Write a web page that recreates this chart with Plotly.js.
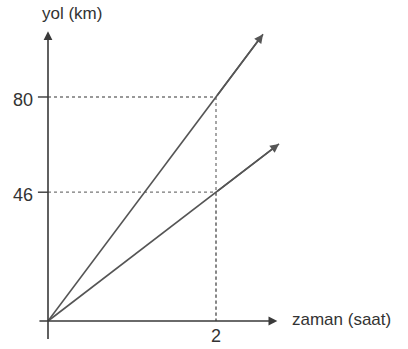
<!DOCTYPE html>
<html>
<head>
<meta charset="utf-8">
<script src="https://cdn.plot.ly/plotly-3.0.1.min.js"></script>
<style>
  html, body { margin: 0; padding: 0; background: #fff; }
  #chart { width: 408px; height: 349px; }
</style>
</head>
<body>
<div id="chart"></div>
<script>
// --- data ---
const markTime = 2;                 // saat
const markKm = [80, 46];            // yol at t = 2 for the two movers
const fastTime = [0, 2, 2.56];
const fastKm = [0, 80, 102.4];
const slowTime = [0, 2, 2.75];
const slowKm = [0, 46, 63.25];
const xTickLabels = ['2'];
const yTickLabels = ['80', '46'];

const lineColor = '#555';
const axisColor = '#3a3a3a';
const font = { family: 'Liberation Sans, Arial, sans-serif', size: 17, color: '#333' };

// dotted guide lines
const guides = markKm.map(v => ({
    x: [0, markTime, markTime], y: [v, v, 0],
    mode: 'lines', line: { color: '#777', width: 1.3, dash: 'dot' },
    hoverinfo: 'skip', showlegend: false
}));

const traces = [
    ...guides,
    { x: fastTime, y: fastKm, mode: 'lines', line: { color: lineColor, width: 1.6 }, showlegend: false },
    { x: slowTime, y: slowKm, mode: 'lines', line: { color: lineColor, width: 1.6 }, showlegend: false }
];

function arrow(x, y, ax, ay, color) {
    return {
        x: x, y: y, ax: ax, ay: ay, xref: 'x', yref: 'y', axref: 'x', ayref: 'y',
        text: '', showarrow: true, arrowhead: 2, arrowsize: 1.1, arrowwidth: 1.6, arrowcolor: color
    };
}

const annotations = [
    // axes
    arrow(2.73, 0, -0.12, 0, axisColor),
    arrow(0, 103.5, 0, -7, axisColor),
    // arrow heads on the two lines
    arrow(fastTime[2], fastKm[2], fastTime[1], fastKm[1], lineColor),
    arrow(slowTime[2], slowKm[2], slowTime[1], slowKm[1], lineColor),
    // texts
    { x: -0.1, y: 109.8, xref: 'x', yref: 'y', text: 'yol (km)', showarrow: false,
      xanchor: 'left', yanchor: 'middle', font: font },
    { x: 2.88, y: 0.4, xref: 'x', yref: 'y', text: 'zaman (saat)', showarrow: false,
      xanchor: 'left', yanchor: 'middle', font: font },
    { x: markTime, y: -5.3, xref: 'x', yref: 'y', text: xTickLabels[0], showarrow: false,
      xanchor: 'center', yanchor: 'middle', font: { ...font, size: 18 } },
    ...markKm.map((v, i) => ({
        x: -0.15, y: v - 1, xref: 'x', yref: 'y', text: yTickLabels[i], showarrow: false,
        xanchor: 'right', yanchor: 'middle', font: { ...font, size: 18 }
    }))
];

// small tick marks on the y axis
const shapes = markKm.map(v => ({
    type: 'line', xref: 'x', yref: 'y', x0: -0.12, x1: 0, y0: v, y1: v,
    line: { color: axisColor, width: 1.4 }
}));

const hidden = { showgrid: false, zeroline: false, showline: false, showticklabels: false, ticks: '' };

Plotly.newPlot('chart', traces, {
    width: 408, height: 349,
    margin: { l: 0, r: 0, t: 0, b: 0 },
    paper_bgcolor: '#fff', plot_bgcolor: '#fff',
    xaxis: { ...hidden, range: [-0.5714, 4.2857] },
    yaxis: { ...hidden, range: [-10, 114.64] },
    annotations: annotations,
    shapes: shapes,
    showlegend: false
}, { displayModeBar: false, staticPlot: true });
</script>
</body>
</html>
